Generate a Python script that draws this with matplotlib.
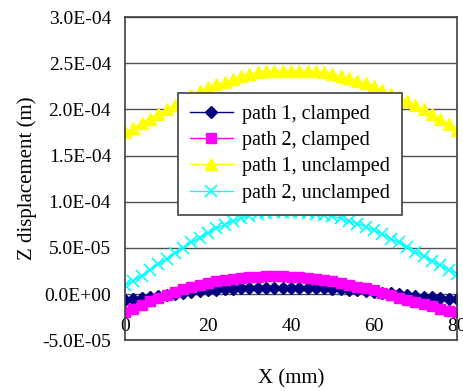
import numpy as np
import matplotlib
matplotlib.use('Agg')
import matplotlib.pyplot as plt
from matplotlib.ticker import FuncFormatter, MultipleLocator

plt.rcParams['font.family'] = ['Liberation Serif', 'DejaVu Serif']

x_mm = list(range(0, 81, 2))

# path 1, clamped (x1e-5 m)
p1_clamped = [-0.6, -0.5, -0.4, -0.3, -0.2, -0.1, 0.0, 0.1, 0.2, 0.3, 0.4, 0.4, 0.5, 0.5,
              0.6, 0.6, 0.6, 0.7, 0.7, 0.7, 0.7, 0.7, 0.6, 0.6, 0.6, 0.5, 0.5, 0.4, 0.4,
              0.3, 0.2, 0.1, 0.1, 0.0, -0.1, -0.2, -0.3, -0.3, -0.4, -0.5, -0.5]
# path 2, clamped (x1e-5 m)
p2_clamped = [-2.0, -1.6, -1.2, -0.8, -0.4, -0.1, 0.2, 0.5, 0.8, 1.0, 1.2, 1.4, 1.5, 1.6,
              1.7, 1.8, 1.8, 1.9, 1.9, 1.9, 1.8, 1.8, 1.7, 1.6, 1.5, 1.4, 1.2, 1.0, 0.8,
              0.6, 0.4, 0.1, -0.1, -0.4, -0.6, -0.9, -1.1, -1.3, -1.6, -1.8, -2.0]
# path 1, unclamped (x1e-4 m)
p1_unclamped = [1.75, 1.80, 1.85, 1.90, 1.95, 2.00, 2.05, 2.10, 2.15, 2.20, 2.24, 2.27, 2.30,
                2.33, 2.36, 2.38, 2.40, 2.41, 2.42, 2.42, 2.42, 2.42, 2.42, 2.41, 2.40, 2.38,
                2.36, 2.34, 2.31, 2.28, 2.25, 2.21, 2.17, 2.13, 2.09, 2.05, 2.00, 1.95, 1.89,
                1.84, 1.78]
# path 2, unclamped (x1e-5 m)
p2_unclamped = [1.0, 1.4, 2.0, 2.6, 3.2, 3.8, 4.4, 5.0, 5.6, 6.1, 6.6, 7.1, 7.5, 7.9, 8.2,
                8.5, 8.7, 8.8, 8.9, 8.9, 8.9, 8.9, 8.8, 8.7, 8.6, 8.4, 8.2, 7.9, 7.6, 7.3,
                6.9, 6.5, 6.0, 5.6, 5.1, 4.6, 4.1, 3.6, 3.1, 2.6, 2.2]

fig = plt.figure(figsize=(4.63, 3.91), dpi=100)
ax = fig.add_axes([0.270, 0.130, 0.717, 0.8265])

ax.plot(x_mm, np.array(p1_clamped) * 1e-5, color='#000080', marker='D', ms=6, lw=1,
        label='path 1, clamped')
ax.plot(x_mm, np.array(p2_clamped) * 1e-5, color='#FF00FF', marker='s', ms=7, lw=1,
        label='path 2, clamped')
ax.plot(x_mm, np.array(p1_unclamped) * 1e-4, color='#FFFF00', marker='^', ms=9, lw=1,
        label='path 1, unclamped')
ax.plot(x_mm, np.array(p2_unclamped) * 1e-5, color='#00FFFF', marker='x', ms=8, mew=1.2,
        lw=1, label='path 2, unclamped')

ax.set_xlim(0, 80)
ax.set_ylim(-5e-5, 3e-4)
ax.yaxis.set_major_locator(MultipleLocator(5e-5))
ax.xaxis.set_major_locator(MultipleLocator(20))
ax.yaxis.set_major_formatter(FuncFormatter(lambda v, p: f'{v:.1E}'))
ax.grid(axis='y', color='#505050', lw=1)
ax.set_axisbelow(True)
for s in ax.spines.values():
    s.set_color('#404040')
    s.set_linewidth(1.2)

ax.tick_params(axis='y', length=0, labelsize=14, pad=10)
ax.tick_params(axis='x', length=0, labelsize=14, pad=-16)

ax.set_xlabel('X (mm)', fontsize=15, labelpad=21)
ax.set_ylabel('Z displacement (m)', fontsize=15, labelpad=4)

leg = ax.legend(loc='upper left', bbox_to_anchor=(0.16, 0.765), fontsize=14.5,
                frameon=True, fancybox=False, edgecolor='#404040', framealpha=1,
                handlelength=2.1, borderpad=0.6, labelspacing=0.35, handletextpad=0.45,
                borderaxespad=0)
leg.get_frame().set_linewidth(1.2)

fig.savefig('out.png', dpi=100)
